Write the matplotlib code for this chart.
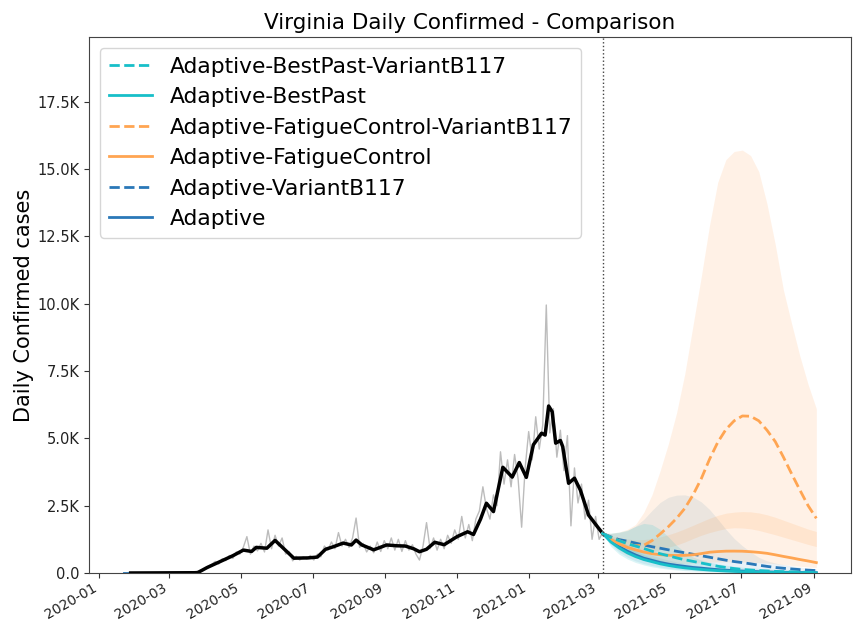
import matplotlib
matplotlib.use("Agg")
import matplotlib.dates as mdates
import matplotlib.pyplot as plt
import pandas as pd
from matplotlib.ticker import FuncFormatter, MultipleLocator

# ---- historical data (Virginia daily confirmed) ----
# raw daily counts, sampled every 3 days from 2020-01-22
raw_start = "2020-01-22"
raw_values = [
    0, 0, 0, 0, 0, 0, 0, 0, 0, 0, 0, 0, 0, 0, 0, 2, 5, 10, 15, 30,
    45, 70, 110, 160, 250, 320, 430, 330, 530, 460, 650, 540, 780, 700, 960, 1350,
    700, 1000, 820, 1100, 780, 1600, 900, 1400, 1000, 1300, 700, 800, 450, 620,
    480, 600, 520, 650, 480, 700, 600, 1000, 850, 1150, 900, 1500, 1000, 1250,
    950, 1300, 2040, 950, 1100, 780, 1000, 750, 1150, 800, 1200, 900, 1300, 850,
    1250, 800, 1200, 850, 1050, 700, 480, 1000, 1870, 900, 1300, 850, 1250, 900,
    1400, 1100, 1600, 1250, 2100, 1300, 1800, 1200, 2000, 2300, 3200, 2400, 2000,
    2900, 2500, 4500, 3300, 4200, 3200, 4400, 3500, 1700, 3900, 5250, 4200, 5800,
    4600, 5500, 9950, 5200, 6100, 4300, 5300, 3800, 5100, 1750, 3900, 2600, 3300,
    2000, 2700, 1250, 2100, 1250, 1500,
]

# 7-day average
smooth_dates = [
    "2020-01-28", "2020-03-25", "2020-04-02", "2020-04-13", "2020-04-24", "2020-05-03",
    "2020-05-10", "2020-05-14", "2020-05-23", "2020-05-30", "2020-06-06", "2020-06-15",
    "2020-06-27", "2020-07-05", "2020-07-12", "2020-07-19", "2020-07-27", "2020-08-03",
    "2020-08-07", "2020-08-12", "2020-08-22", "2020-09-02", "2020-09-11", "2020-09-18",
    "2020-09-25", "2020-09-30", "2020-10-06", "2020-10-13", "2020-10-21", "2020-11-01",
    "2020-11-10", "2020-11-15", "2020-11-21", "2020-11-26", "2020-12-02", "2020-12-10",
    "2020-12-18", "2020-12-24", "2020-12-30", "2021-01-05", "2021-01-12", "2021-01-15",
    "2021-01-18", "2021-01-21", "2021-01-24", "2021-01-28", "2021-01-30", "2021-02-04",
    "2021-02-09", "2021-02-14", "2021-02-21", "2021-02-28", "2021-03-05",
]
smooth_values = [
    0, 10, 200, 420, 640, 850, 800, 950, 920, 1210, 920, 550,
    560, 590, 880, 980, 1110, 1040, 1220, 1040, 860, 1040, 1010, 1000,
    900, 790, 880, 1140, 1050, 1350, 1530, 1430, 2000, 2590, 2280, 3925,
    3560, 4100, 3550, 4760, 5190, 5120, 6200, 5990, 4820, 4920, 4690, 3330,
    3520, 3080, 2150, 1750, 1470,
]

# model fit visible before the 7-day average starts
fit_dates = ["2020-01-22", "2020-01-28"]
fit_values = [0, 0]

# ---- projections, weekly from the forecast date ----
forecast_start = "2021-03-05"
forecast_end = "2021-09-03"

bp_vb117 = [1470, 1320, 1200, 1090, 1000, 910, 810, 715, 640, 560, 490, 430, 370, 310,
            250, 205, 165, 130, 110, 90, 75, 60, 50, 40, 32, 25, 20]
bp_vb117_hi = [1470, 1480, 1520, 1590, 1730, 1840, 1800, 1620, 1340, 1020, 780, 590, 480,
               400, 340, 290, 245, 215, 190, 170, 150, 135, 120, 110, 100, 90, 80]
bp_vb117_lo = [1470, 1150, 950, 800, 680, 580, 490, 410, 340, 280, 230, 185, 150, 120, 95,
               75, 60, 48, 38, 30, 24, 19, 15, 12, 10, 8, 6]

bp = [1470, 1150, 930, 750, 610, 500, 420, 340, 280, 230, 190, 158, 132, 108, 88, 72, 58,
      47, 37, 30, 24, 19, 15, 12, 9, 7, 5]
bp_hi = [1470, 1300, 1130, 960, 810, 680, 570, 480, 400, 335, 280, 235, 195, 160, 130, 108,
         90, 75, 62, 51, 42, 35, 29, 24, 20, 16, 13]
bp_lo = [1470, 980, 700, 520, 390, 300, 230, 180, 140, 110, 88, 70, 56, 45, 36, 29, 23, 18,
         14, 11, 9, 7, 6, 5, 4, 3, 2]

fc_vb117 = [1470, 1320, 1200, 1080, 1010, 1030, 1200, 1450, 1720, 2030, 2400, 2900, 3500,
            4220, 4850, 5330, 5650, 5830, 5820, 5650, 5300, 4880, 4300, 3680, 3080, 2500, 2030]
fc_vb117_hi = [1470, 1470, 1520, 1620, 1800, 2250, 2900, 3800, 4800, 5950, 7400, 9200, 11000,
               12900, 14500, 15350, 15650, 15700, 15500, 14900, 13700, 12200, 10500, 9250,
               8050, 7000, 6100]
fc_vb117_lo = [1470, 1250, 1050, 900, 780, 740, 780, 870, 960, 1040, 1150, 1280, 1400, 1500,
               1580, 1650, 1680, 1670, 1640, 1580, 1500, 1420, 1330, 1240, 1150, 1060, 980]

fc = [1470, 1250, 1080, 950, 860, 780, 715, 680, 660, 650, 655, 675, 720, 770, 795, 810, 812,
      808, 790, 765, 730, 675, 615, 560, 500, 445, 385]
fc_hi = [1470, 1380, 1310, 1260, 1230, 1240, 1280, 1340, 1420, 1520, 1640, 1770, 1900, 2030,
         2140, 2220, 2260, 2280, 2270, 2230, 2160, 2070, 1960, 1850, 1740, 1630, 1540]
fc_lo = [1470, 1100, 850, 680, 560, 480, 420, 390, 370, 360, 360, 370, 385, 400, 410, 415,
         415, 410, 400, 385, 365, 340, 310, 280, 250, 225, 200]

ad_vb117 = [1470, 1340, 1240, 1180, 1110, 1040, 975, 920, 860, 805, 750, 695, 640, 585, 530,
            475, 425, 385, 340, 290, 245, 205, 175, 150, 125, 105, 90]
ad_vb117_hi = [1470, 1470, 1500, 1570, 1740, 1990, 2320, 2620, 2810, 2890, 2900, 2820, 2640,
               2360, 2000, 1620, 1280, 1010, 780, 580, 450, 370, 310, 260, 220, 185, 150]
ad_vb117_lo = [1470, 1150, 930, 760, 640, 540, 460, 400, 340, 290, 250, 220, 190, 160, 140,
               120, 100, 85, 70, 60, 50, 42, 35, 30, 25, 20, 18]

ad = [1470, 1200, 980, 810, 670, 550, 470, 390, 330, 285, 245, 205, 180, 150, 125, 105, 88,
      73, 60, 48, 40, 32, 26, 21, 17, 13, 10]
ad_hi = [1470, 1350, 1200, 1050, 900, 770, 660, 560, 480, 410, 350, 300, 255, 215, 180, 150,
         125, 105, 88, 73, 60, 50, 42, 35, 29, 24, 20]
ad_lo = [1470, 1050, 780, 590, 450, 350, 280, 220, 175, 140, 115, 95, 78, 63, 52, 43, 35, 28,
         22, 18, 14, 11, 9, 7, 5, 4, 3]

TEAL = "#17bfc9"
ORANGE = "#ffa552"
BLUE = "#2a78b8"

raw_dates = pd.date_range(raw_start, periods=len(raw_values), freq="3D")
proj_dates = pd.date_range(forecast_start, forecast_end, freq="7D")

fig = plt.figure(figsize=(8.58, 6.22), dpi=100)
ax = fig.add_axes([0.1037, 0.0788, 0.8881, 0.8617])

# scenario list: (label, median, low, high, color, linestyle)
scenarios = [
    ("Adaptive", ad, ad_lo, ad_hi, BLUE, "-"),
    ("Adaptive-VariantB117", ad_vb117, ad_vb117_lo, ad_vb117_hi, BLUE, "--"),
    ("Adaptive-FatigueControl", fc, fc_lo, fc_hi, ORANGE, "-"),
    ("Adaptive-FatigueControl-VariantB117", fc_vb117, fc_vb117_lo, fc_vb117_hi, ORANGE, "--"),
    ("Adaptive-BestPast", bp, bp_lo, bp_hi, TEAL, "-"),
    ("Adaptive-BestPast-VariantB117", bp_vb117, bp_vb117_lo, bp_vb117_hi, TEAL, "--"),
]

for label, med, lo, hi, color, ls in scenarios:
    if color == ORANGE:
        ax.fill_between(proj_dates, lo, hi, color="#ff7f0e", alpha=0.1, linewidth=0)
    elif color == TEAL:
        ax.fill_between(proj_dates, lo, hi, color=color, alpha=0.15, linewidth=0)
    else:
        ax.fill_between(proj_dates, lo, hi, color=color, alpha=0.1, linewidth=0)

ax.plot(raw_dates, raw_values, color="#bcbcbc", lw=1)
ax.plot(pd.to_datetime(fit_dates), fit_values, color=BLUE, lw=2)
ax.plot(pd.to_datetime(smooth_dates), smooth_values, color="black", lw=2.5)

handles = []
for label, med, lo, hi, color, ls in scenarios:
    (h,) = ax.plot(proj_dates, med, color=color, ls=ls, lw=2, label=label)
    handles.append(h)

ax.axvline(pd.Timestamp(forecast_start), color="#444444", ls=":", lw=1)

ax.set_ylim(0, 19900)
ax.yaxis.set_major_locator(MultipleLocator(2500))
ax.yaxis.set_major_formatter(FuncFormatter(lambda v, p: "0.0" if v == 0 else f"{v / 1000:.1f}K"))
ax.xaxis.set_major_locator(mdates.MonthLocator(bymonth=[1, 3, 5, 7, 9, 11]))
ax.xaxis.set_major_formatter(mdates.DateFormatter("%Y-%m"))
ax.tick_params(colors="#333333", labelcolor="#222222")
ax.tick_params(axis="y", labelsize=10.5)
ax.tick_params(axis="x", labelsize=10, pad=2)
for lab in ax.get_xticklabels():
    lab.set_rotation(30)
    lab.set_ha("right")

for s in ax.spines.values():
    s.set_color("#444444")

ax.set_ylabel("Daily Confirmed cases", fontsize=15, labelpad=2)
ax.set_title("Virginia Daily Confirmed - Comparison", fontsize=15.5)
ax.legend(handles=handles[::-1], loc="upper left", fontsize=15.7, labelspacing=0.48)

fig.savefig("out.png", dpi=100)
